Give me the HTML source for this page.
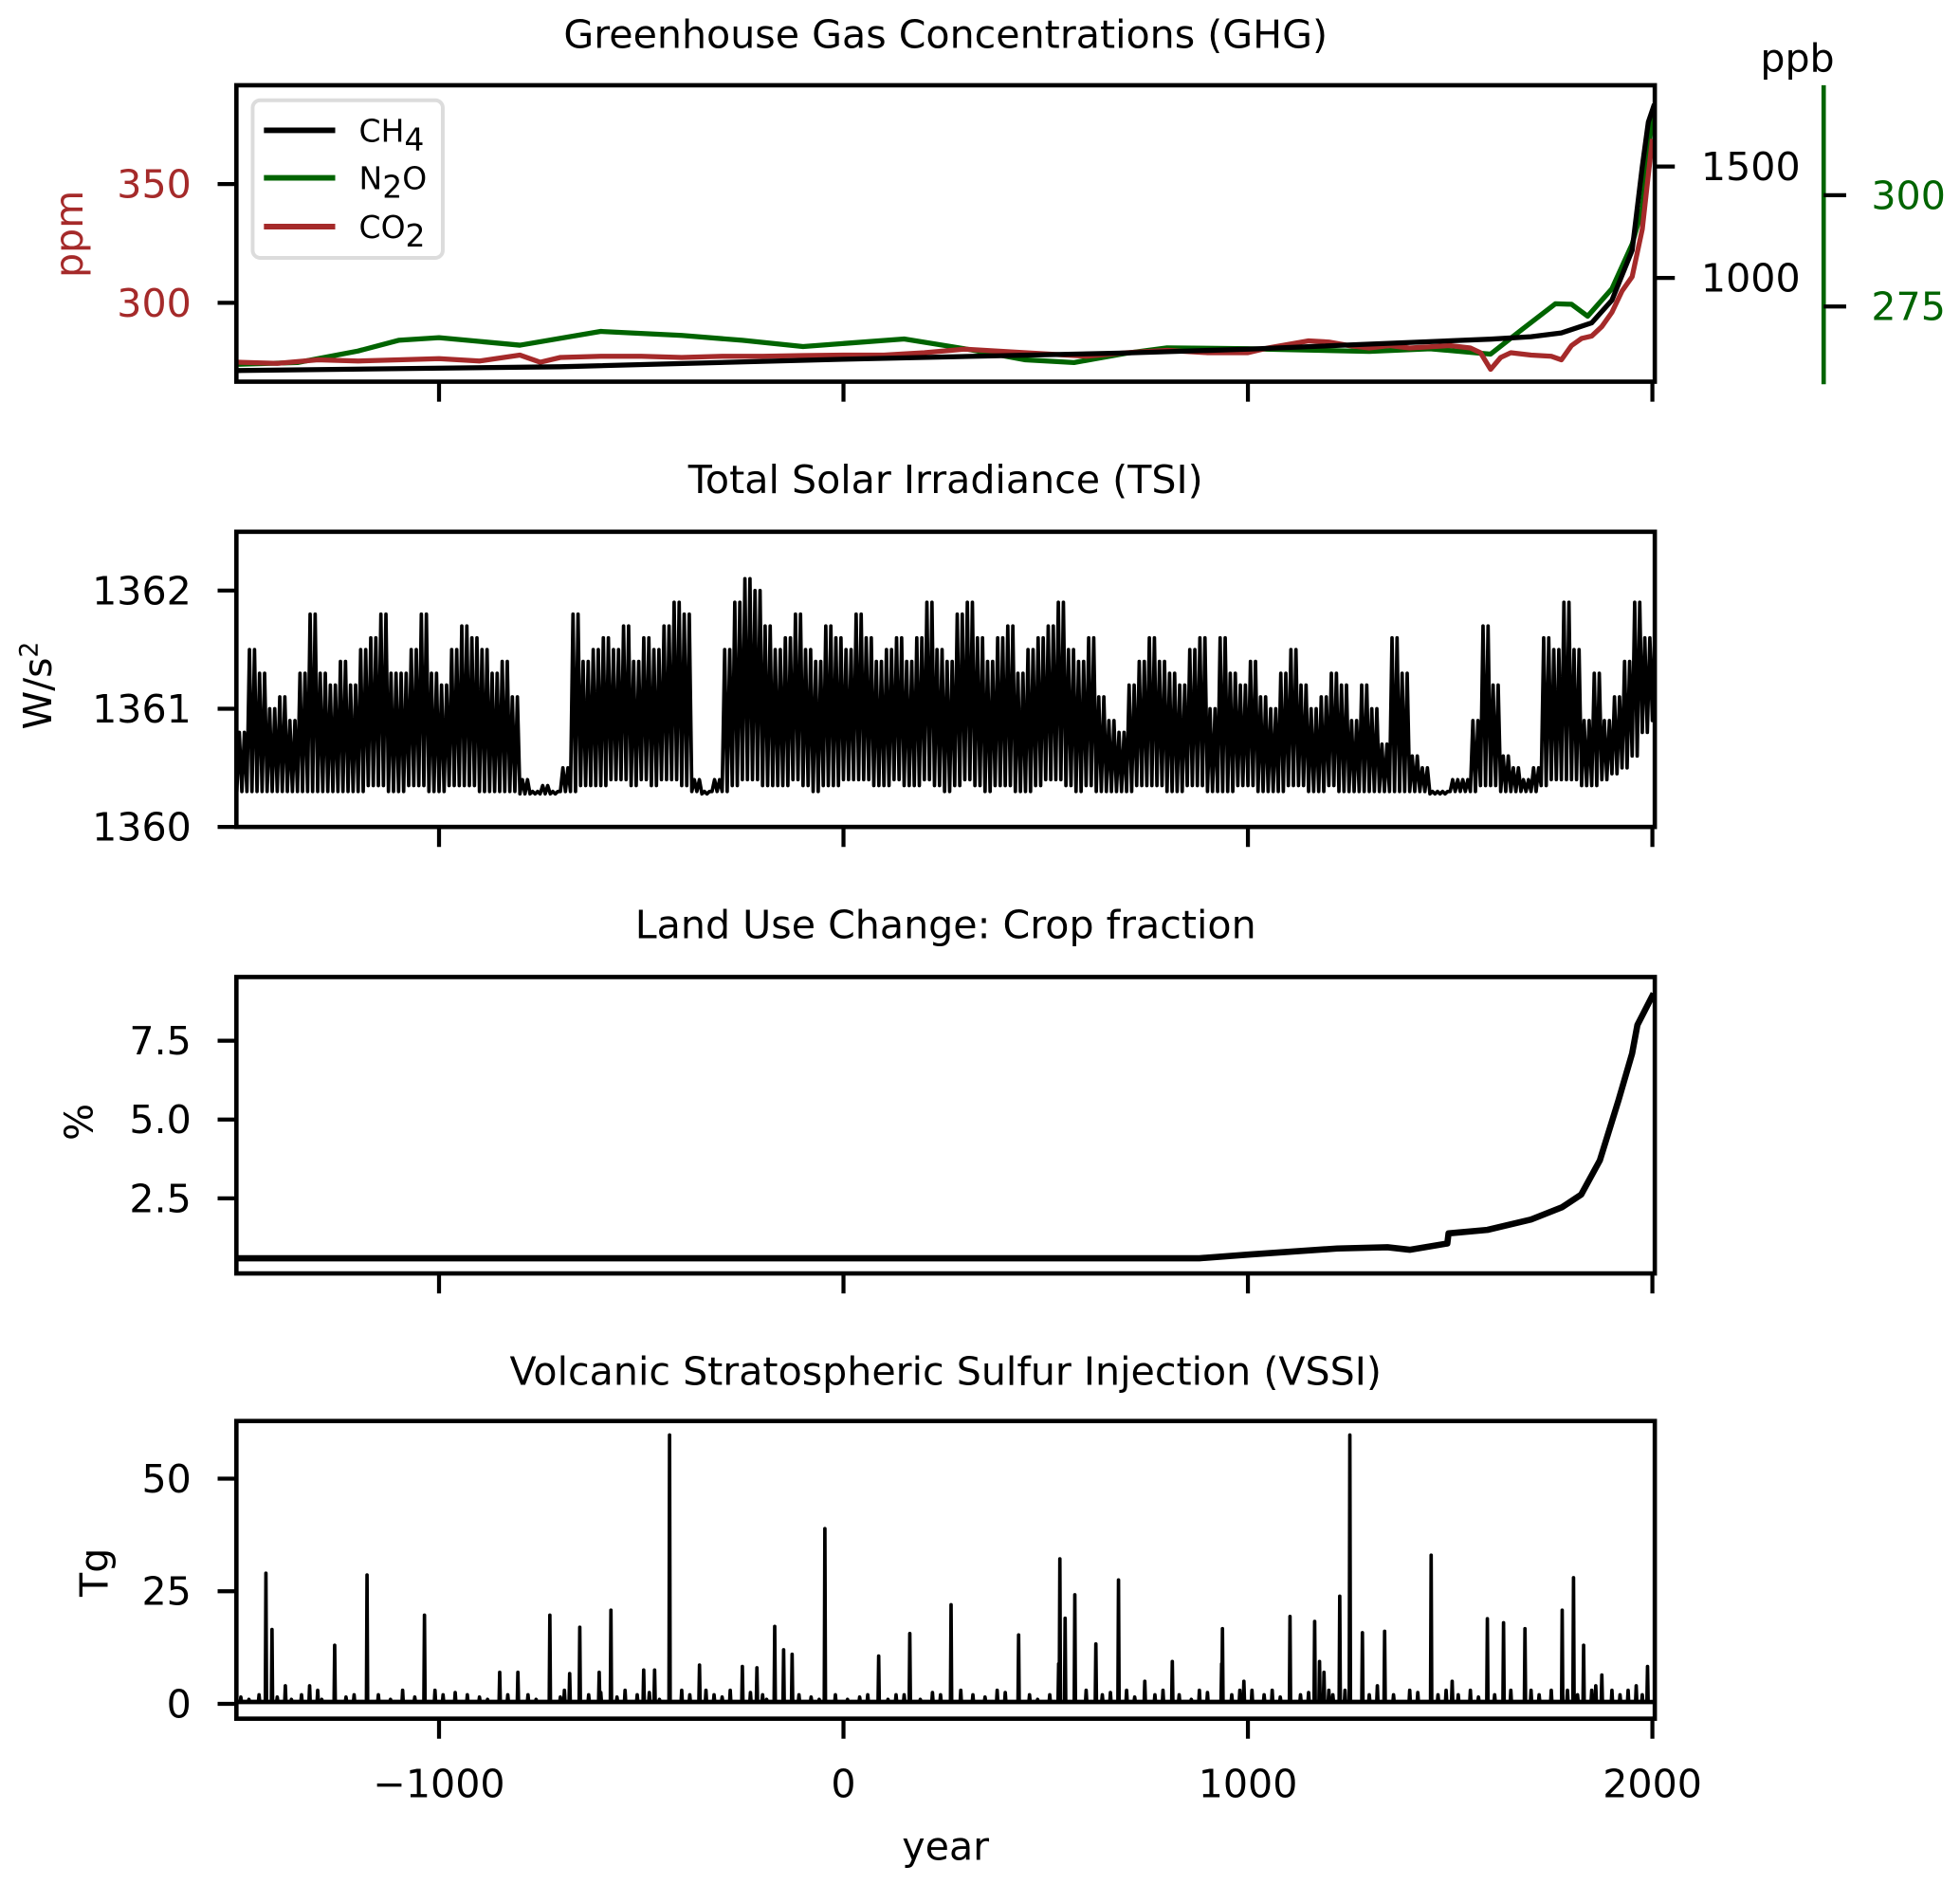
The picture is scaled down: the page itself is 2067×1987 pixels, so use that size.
<!DOCTYPE html>
<html><head><meta charset="utf-8"><style>
html,body{margin:0;padding:0;background:#fff;}
svg{display:block;}
text{font-family:"DejaVu Sans","Liberation Sans",sans-serif;}
</style></head><body>
<svg id="fig" xmlns="http://www.w3.org/2000/svg" width="2067" height="1987" viewBox="0 0 1567 1506">
<rect x="0" y="0" width="1567" height="1506" fill="#fff"/>
</svg>
<script>
// ---------- data ----------
const co2Years = [-1500,-1400,-1300,-1200,-1100,-1000,-900,-800,-750,-700,-600,-500,-400,-300,-200,-100,0,100,200,300,400,500,600,700,800,900,1000,1050,1100,1150,1200,1250,1300,1350,1400,1450,1500,1550,1575,1600,1625,1650,1700,1750,1775,1800,1825,1850,1875,1900,1925,1950,1975,1990,2000];
const co2Vals = [275,274.5,276,275.5,276,276.5,275.5,278,275,277,277.5,277.5,277,277.5,277.5,277.8,278,278,279,280.5,279.5,278.5,277.5,279,280,279,279,281,282.5,284,283.5,282,281,282,281,281.5,282,281,279,272,277,279,278,277.5,276,282,285,286,290,296,305,311,331,354,369];
const n2oYears = [-1500,-1350,-1200,-1100,-1000,-800,-600,-400,-250,-100,150,300,450,570,700,800,1000,1300,1450,1600,1680,1760,1800,1840,1900,1950,1975,2000];
const n2oVals = [262,262.4,265,267.4,268,266.3,269.4,268.5,267.4,266,267.7,265.5,263,262.4,264.5,265.7,265.5,264.9,265.5,264.3,270,275.6,275.5,272.8,279,289,297,318];
const ch4Years = [-1500,-700,0,700,1000,1600,1700,1775,1850,1900,1950,1975,1990,2005];
const ch4Vals = [584,601,635,663,680,725,736,753,798,900,1124,1500,1700,1780];
const tsiStart = -1500, tsiStep = 25;
const tsiPeaks = [1360.8,1361.5,1361.3,1361.0,1361.1,1360.9,1361.3,1361.8,1361.3,1361.2,1361.4,1361.2,1361.5,1361.6,1361.8,1361.3,1361.3,1361.5,1361.8,1361.3,1361.2,1361.5,1361.7,1361.6,1361.5,1361.3,1361.4,1361.1,1360.4,1360.3,1360.35,1360.3,1360.5,1361.8,1361.4,1361.5,1361.6,1361.5,1361.7,1361.4,1361.6,1361.5,1361.7,1361.9,1361.8,1360.4,1360.3,1360.4,1361.5,1361.9,1362.1,1362.0,1361.7,1361.5,1361.6,1361.8,1361.5,1361.4,1361.7,1361.6,1361.5,1361.8,1361.6,1361.4,1361.5,1361.6,1361.4,1361.6,1361.9,1361.5,1361.4,1361.8,1361.9,1361.6,1361.4,1361.6,1361.7,1361.3,1361.5,1361.6,1361.7,1361.9,1361.5,1361.4,1361.6,1361.1,1360.9,1360.8,1361.2,1361.4,1361.6,1361.4,1361.3,1361.2,1361.5,1361.6,1361.0,1361.6,1361.3,1361.2,1361.4,1361.1,1361.0,1361.3,1361.5,1361.2,1361.0,1361.1,1361.3,1361.2,1360.9,1361.2,1361.0,1360.7,1361.6,1361.3,1360.6,1360.5,1360.3,1360.3,1360.4,1360.4,1360.9,1361.7,1361.2,1360.6,1360.5,1360.4,1360.5,1361.6,1361.5,1361.9,1361.5,1360.9,1361.3,1360.9,1361.1,1361.4,1361.9,1361.6,1361.7];
const tsiTroughs = [1360.3,1360.3,1360.3,1360.3,1360.3,1360.3,1360.3,1360.3,1360.3,1360.3,1360.3,1360.3,1360.3,1360.35,1360.35,1360.3,1360.3,1360.35,1360.35,1360.3,1360.3,1360.35,1360.35,1360.35,1360.3,1360.3,1360.3,1360.3,1360.28,1360.28,1360.28,1360.28,1360.3,1360.3,1360.35,1360.35,1360.35,1360.4,1360.4,1360.35,1360.4,1360.35,1360.4,1360.4,1360.35,1360.3,1360.28,1360.3,1360.3,1360.35,1360.4,1360.4,1360.35,1360.35,1360.35,1360.4,1360.35,1360.3,1360.35,1360.35,1360.4,1360.4,1360.4,1360.35,1360.35,1360.4,1360.35,1360.35,1360.4,1360.35,1360.3,1360.35,1360.4,1360.35,1360.3,1360.35,1360.35,1360.3,1360.3,1360.35,1360.4,1360.4,1360.35,1360.3,1360.35,1360.3,1360.3,1360.3,1360.3,1360.35,1360.35,1360.35,1360.3,1360.3,1360.35,1360.35,1360.3,1360.3,1360.3,1360.35,1360.35,1360.3,1360.3,1360.3,1360.35,1360.35,1360.3,1360.3,1360.35,1360.3,1360.3,1360.3,1360.3,1360.3,1360.3,1360.3,1360.3,1360.3,1360.28,1360.28,1360.3,1360.3,1360.3,1360.35,1360.35,1360.3,1360.3,1360.3,1360.3,1360.35,1360.4,1360.4,1360.4,1360.35,1360.35,1360.4,1360.45,1360.5,1360.6,1360.8,1360.9];
const cropYears = [-1500,880,1005,1221,1345,1400,1493,1496,1592,1700,1777,1824,1870,1916,1950,1963,2003];
const cropVals = [0.6,0.6,0.72,0.91,0.95,0.87,1.07,1.39,1.5,1.83,2.22,2.62,3.7,5.6,7.1,8.0,9.0];
const volcYears = [-1428,-1413,-1380,-1320,-1258,-1178,-1036,-850,-805,-726,-677,-652,-604,-575,-494,-467,-430,-356,-250,-214,-170,-148,-127,-46,87,164,266,433,532,535,548,572,624,680,745,813,935,937,990,1104,1165,1177,1188,1227,1252,1283,1338,1453,1505,1592,1632,1685,1777,1805,1830,1875,1988];
const volcVals = [29,16.5,4,4,13,28.6,19.7,7,7,19.7,6.7,17,7,20.8,7.5,7.5,59.7,8.6,8.3,8,17.2,12,11,38.9,10.6,15.6,22,15.3,8.9,32.2,19,24.2,13.3,27.5,5,9.4,8.9,16.7,5,19.4,18.3,9.4,7,23.9,59.7,15.8,16.1,33,5,18.9,18,16.7,20.8,28,13,6.4,8.3];
const volcSmallYears = [-1490,-1470,-1445,-1400,-1365,-1340,-1300,-1290,-1230,-1210,-1150,-1120,-1090,-1060,-1010,-990,-960,-930,-900,-880,-830,-780,-760,-700,-690,-630,-600,-560,-540,-510,-480,-455,-400,-380,-340,-320,-300,-280,-230,-200,-190,-110,-80,-60,-20,10,40,60,110,130,150,190,220,240,290,320,350,380,400,460,480,510,600,640,660,700,720,770,790,830,860,880,900,960,980,1010,1040,1060,1080,1130,1150,1200,1210,1240,1300,1320,1360,1400,1420,1470,1490,1520,1550,1570,1610,1650,1700,1720,1750,1790,1815,1850,1860,1900,1920,1940,1960,1975,1995];
const volcSmallVals = [1.5,1,2,1.5,1,2,3,1,1.5,2,2,1,3,1.5,3,2,2.5,2,1.5,1,2,2,1,1.5,3,2,2.5,1.5,3,2,2.5,1,3,2,3,2,1.5,3,2.5,2,1,2,1.5,1,2,1,1.5,2,1,2,2,1,2.5,2,3,2,1.5,3,2.5,2,1,2,3,2,2.5,3,1.5,2,3,2,1,3,2.5,2,3,3,2,3,1.5,2,2.5,3,2,3,2,4,2,3,2.5,2,3,2,3,1.5,2,3,3,2,3,3,2,3,4,3,2,3,4,2];
const xTicks = [-1000,0,1000,2000];
const xTickLabels = ["\u22121000","0","1000","2000"];
const co2Ticks = [300,350];
const ch4Ticks = [1000,1500];
const n2oTicks = [275,300];
const tsiTicks = [1360,1361,1362];
const cropTicks = [2.5,5.0,7.5];
const cropTickLabels = ["2.5","5.0","7.5"];
const volcTicks = [0,25,50];

// ---------- helpers ----------
const NS="http://www.w3.org/2000/svg";
const svg=document.getElementById('fig');
function mk(tag,attrs,parent){const e=document.createElementNS(NS,tag);for(const k in attrs)e.setAttribute(k,attrs[k]);(parent||svg).appendChild(e);return e;}
const X0=189,X1=1323,XMIN=-1501,XMAX=2006;
function xs(v){return X0+(v-XMIN)/(XMAX-XMIN)*(X1-X0);}
function yScale(top,bot,min,max){return v=>bot-(v-min)/(max-min)*(bot-top);}
const FS=31.2;
function txt(x,y,s,opts,name){const t=mk('text',Object.assign({x:x,y:y,'font-size':FS,fill:'#000'},opts||{}));t.textContent=s;


return t;}
function line(pts,color,w,name){const p=mk('polyline',{points:pts.map(q=>q[0].toFixed(2)+','+q[1].toFixed(2)).join(' '),fill:'none',stroke:color,'stroke-width':w,'stroke-linejoin':'round'});


return p;}
function frame(top,bot,name){const r=mk('rect',{x:X0,y:top,width:X1-X0,height:bot-top,fill:'none',stroke:'#000','stroke-width':3.5});


xTicks.forEach((t,i)=>{const l=mk('line',{x1:xs(t),x2:xs(t),y1:bot,y2:bot+16,stroke:'#000','stroke-width':3.2});

});}
function yTicksLeft(ticks,labels,ys,color,name){ticks.forEach((t,i)=>{const y=ys(t);
const l=mk('line',{x1:X0-15,x2:X0,y1:y,y2:y,stroke:'#000','stroke-width':3.2});


txt(X0-36,y+11,labels[i],{'text-anchor':'end',fill:color},name);});}
function clip(id,top,bot){const c=mk('clipPath',{id:id});mk('rect',{x:X0,y:top,width:X1-X0,height:bot-top},c);return 'url(#'+id+')';}

// ---------- Panel 1: GHG ----------
(function(){
const top=68,bot=305;
const yCO2=yScale(top,bot,266.8,391.6), yCH4=yScale(top,bot,534,1865), yN2O=yScale(top,bot,258.1,324.7);
const g=mk('g',{'clip-path':clip('c1',top-2,bot)});


g.appendChild(line(n2oYears.map((y,i)=>[xs(y),yN2O(n2oVals[i])]),'#006400',4,'n2o-line'));
g.appendChild(line(co2Years.map((y,i)=>[xs(y),yCO2(co2Vals[i])]),'#a52a2a',4,'co2-line'));
g.appendChild(line(ch4Years.map((y,i)=>[xs(y),yCH4(ch4Vals[i])]),'#000',4,'ch4-line'));
frame(top,bot,'ghg-axes-frame');
yTicksLeft(co2Ticks,co2Ticks.map(String),yCO2,'#a52a2a','co2-tick-label');
ch4Ticks.forEach(t=>{const y=yCH4(t);const l=mk('line',{x1:X1,x2:X1+16,y1:y,y2:y,stroke:'#000','stroke-width':3.2});


txt(X1+37,y+11,String(t),{},'ch4-tick-label');});
const sp=mk('line',{x1:1458,x2:1458,y1:top,y2:bot+2,stroke:'#006400','stroke-width':3.5});


n2oTicks.forEach(t=>{const y=yN2O(t);const l=mk('line',{x1:1458,x2:1476,y1:y,y2:y,stroke:'#000','stroke-width':3.2});


txt(1496,y+11,String(t),{fill:'#006400'},'n2o-tick-label');});
txt(756,38,'Greenhouse Gas Concentrations (GHG)',{'text-anchor':'middle'},'ghg-title');
txt(1437,57,'ppb',{'text-anchor':'middle'},'ppb-axis-label');
txt(0,0,'ppm',{'text-anchor':'middle',fill:'#a52a2a',transform:'translate(66,187) rotate(-90)'},'ppm-axis-label');
const lg=mk('g',{});


mk('rect',{x:202,y:80,width:152,height:126,rx:6,fill:'#fff',stroke:'#dcdcdc','stroke-width':3},lg);
[['CH','4','#000',104],['N','2','#006400',142],['CO','2','#a52a2a',181]].forEach((e,i)=>{
const l=mk('line',{x1:211,x2:268,y1:e[3],y2:e[3],stroke:e[2],'stroke-width':4.5},lg);


const t=mk('text',{x:287,y:e[3]+9,'font-size':25,fill:'#000'},lg);


t.appendChild(document.createTextNode(e[0]));
const s=mk('tspan',{dy:7,'font-size':25},t);s.textContent=e[1];
if(i===1){const s2=mk('tspan',{dy:-7},t);s2.textContent='O';}
});
})();

// ---------- Panel 2: TSI ----------
(function(){
const top=425,bot=661;
const ys=yScale(top,bot,1360,1362.497);
const pts=[];
const sub=2;
tsiPeaks.forEach((p,i)=>{const yr=tsiStart+i*tsiStep;
for(let k=0;k<sub;k++){const a=yr+k*tsiStep/sub;
pts.push([xs(a),ys(tsiTroughs[i])]);pts.push([xs(a+tsiStep/sub/2),ys(p)]);}});
const g=mk('g',{'clip-path':clip('c2',top,bot)});
g.appendChild(line(pts,'#000',2.8,'tsi-line'));
frame(top,bot,'tsi-axes-frame');
yTicksLeft(tsiTicks,tsiTicks.map(String),ys,'#000','tsi-tick-label');
txt(756,394,'Total Solar Irradiance (TSI)',{'text-anchor':'middle'},'tsi-title');
const t=txt(0,0,'W/s',{'text-anchor':'middle',transform:'translate(41,548) rotate(-90)'},'tsi-axis-label');
const s=mk('tspan',{dy:-11,'font-size':20},t);s.textContent='2';
})();

// ---------- Panel 3: Crop ----------
(function(){
const top=781,bot=1018;
const ys=yScale(top,bot,0.119,9.52);
const g=mk('g',{'clip-path':clip('c3',top,bot)});
g.appendChild(line(cropYears.map((y,i)=>[xs(y),ys(cropVals[i])]),'#000',5,'crop-fraction-line'));
frame(top,bot,'crop-axes-frame');
yTicksLeft(cropTicks,cropTickLabels,ys,'#000','crop-tick-label');
txt(756,750,'Land Use Change: Crop fraction',{'text-anchor':'middle'},'crop-title');
txt(0,0,'%',{'text-anchor':'middle',transform:'translate(74,897) rotate(-90)'},'crop-axis-label');
})();

// ---------- Panel 4: Volcanic ----------
(function(){
const top=1136,bot=1374;
const ys=yScale(top,bot,-3.3,62.8);
const g=mk('g',{'clip-path':clip('c4',top,bot)});
const all=volcYears.map((y,i)=>[y,volcVals[i]]).concat(volcSmallYears.map((y,i)=>[y,volcSmallVals[i]])).sort((a,b)=>a[0]-b[0]);
const pts=[[xs(-1501),ys(0.5)]];
all.forEach(e=>{pts.push([xs(e[0]-1.5),ys(0.5)]);pts.push([xs(e[0]),ys(e[1])]);pts.push([xs(e[0]+1.5),ys(0.5)]);});
pts.push([xs(2006),ys(0.5)]);
g.appendChild(line(pts,'#000',2.8,'vssi-line'));
g.appendChild(line([[xs(-1501),ys(0.4)],[xs(2006),ys(0.4)]],'#000',3.5,'vssi-baseline'));
frame(top,bot,'vssi-axes-frame');
yTicksLeft(volcTicks,volcTicks.map(String),ys,'#000','vssi-tick-label');
txt(756,1107,'Volcanic Stratospheric Sulfur Injection (VSSI)',{'text-anchor':'middle'},'vssi-title');
txt(0,0,'Tg',{'text-anchor':'middle',transform:'translate(86,1257) rotate(-90)'},'vssi-axis-label');
xTicks.forEach((t,i)=>txt(xs(t),1437,xTickLabels[i],{'text-anchor':'middle'},'x-tick-label'));
txt(756,1487,'year',{'text-anchor':'middle'},'x-axis-title');
})();
</script>
</body></html>
